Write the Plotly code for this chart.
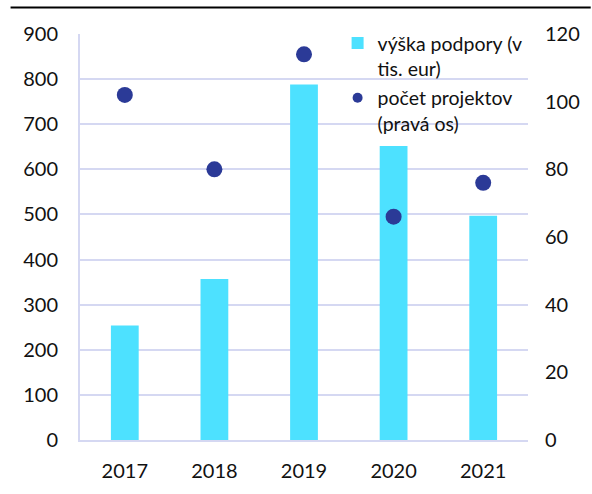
import plotly.graph_objects as go

years = ["2017", "2018", "2019", "2020", "2021"]
support = [254, 357, 788, 652, 497]      # výška podpory (tis. eur)
projects = [102, 80, 114, 66, 76]        # počet projektov

BAR = "#4DE1FF"
DOT = "#2B3A97"
GRID = "#D5D8F2"
FONT = "Lato"

fig = go.Figure()
fig.add_trace(go.Bar(
    x=years, y=support, name="výška podpory (v<br>tis. eur)",
    marker=dict(color=BAR, line=dict(width=0)), width=0.31,
))
fig.add_trace(go.Scatter(
    x=years, y=projects, name="počet projektov<br>(pravá os)", yaxis="y2",
    mode="markers", marker=dict(color=DOT, size=16), showlegend=False,
    legendgroup="p",
))
# smaller legend swatch for the project count series
fig.add_trace(go.Scatter(
    x=[None], y=[None], name="počet projektov<br>(pravá os)", yaxis="y2",
    mode="markers", marker=dict(color=DOT, size=10), legendgroup="p",
))

fig.update_layout(
    width=592, height=494,
    margin=dict(l=80, r=62, t=34, b=50),
    paper_bgcolor="white", plot_bgcolor="white",
    font=dict(family=FONT, size=20, color="#111111"),
    showlegend=True,
    legend=dict(
        x=0.575, y=1.025, xanchor="left", yanchor="top",
        bgcolor="rgba(0,0,0,0)", font=dict(size=19.5), valign="top",
        tracegroupgap=1, itemwidth=30,
    ),
    xaxis=dict(
        showline=True, linecolor=GRID, linewidth=2,
        ticks="", tickfont=dict(size=20), ticklabelstandoff=12,
    ),
    yaxis=dict(
        range=[0, 900], dtick=100, showgrid=True, gridcolor=GRID, gridwidth=1.5,
        showline=True, linecolor=GRID, linewidth=2, zeroline=False,
        ticks="", ticklabelstandoff=16,
    ),
    yaxis2=dict(
        range=[0, 120], dtick=20, overlaying="y", side="right",
        showgrid=False, zeroline=False, showline=False,
        ticks="", ticklabelstandoff=16,
    ),
    shapes=[
        dict(type="line", xref="paper", yref="paper", x0=-0.155, x1=1.14, y0=1.065, y1=1.065,
             line=dict(color="black", width=2)),
    ],
)

fig.write_html("out.html")
